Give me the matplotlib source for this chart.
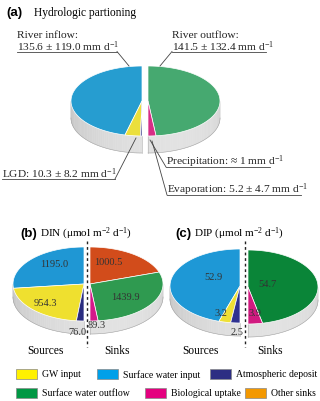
import numpy as np
import matplotlib
matplotlib.use("Agg")
import matplotlib.pyplot as plt
from matplotlib.patches import Polygon, Rectangle

plt.rcParams['mathtext.fontset'] = 'custom'
plt.rcParams['mathtext.rm'] = 'Liberation Serif'
plt.rcParams['mathtext.it'] = 'Liberation Serif:italic'
plt.rcParams['mathtext.bf'] = 'Liberation Serif:bold'

SERIF = 'Liberation Serif'
SANS = 'Liberation Sans'

# (a) hydrologic partitioning, mm d-1
a_src_names = ['River inflow', 'LGD', 'Precipitation']
a_src_vals = [135.6, 10.3, 1.0]
a_src_text = ['135.6 ± 119.0', '10.3 ± 8.2', '≈ 1']
a_sink_names = ['River outflow', 'Evaporation']
a_sink_vals = [141.5, 5.2]
a_sink_text = ['141.5 ± 132.4', '5.2 ± 4.7']

# (b) DIN, umol m-2 d-1
b_src_vals = [1195.0, 954.3, 76.0]       # surface water, GW, atmospheric
b_sink_vals = [1000.5, 1439.9, 89.3]     # other sinks, outflow, biological

# (c) DIP, umol m-2 d-1
c_src_vals = [52.9, 3.2, 2.5]
c_sink_vals = [54.7, 3.9]

legend_names = ['GW input', 'Surface water input', 'Atmospheric deposit',
                'Surface water outflow', 'Biological uptake', 'Other sinks']
legend_colors = ['#FFF100', '#00A0E9', '#2D2E83', '#009844', '#E4007F', '#F39800']


def half_pie(ax, cx, cy, a, b, h, vals, colors, side):
    # side 'left' -> from top going counter-clockwise, 'right' -> clockwise
    tot = float(sum(vals))
    sgn = 1 if side == 'left' else -1
    # side wall (front part only)
    if side == 'left':
        ts = np.linspace(180, 270, 46)
    else:
        ts = np.linspace(270, 360, 46)
    for t0, t1 in zip(ts[:-1], ts[1:]):
        tm = np.radians((t0 + t1) / 2)
        g = 0.80 + 0.08 * (-np.sin(tm)) + 0.03 * np.cos(tm)
        x0 = cx + a * np.cos(np.radians(t0))
        x1 = cx + a * np.cos(np.radians(t1))
        y0 = cy - b * np.sin(np.radians(t0))
        y1 = cy - b * np.sin(np.radians(t1))
        ax.add_patch(Polygon([[x0, y0], [x1, y1], [x1, y1 + h], [x0, y0 + h]],
                             closed=True, fc=(g, g, g), ec=(g, g, g), lw=0.3, zorder=1))
    # bottom outline of wall
    if side == 'left':
        tt = np.radians(np.linspace(180, 270, 60))
    else:
        tt = np.radians(np.linspace(270, 360, 60))
    ax.plot(cx + a * np.cos(tt), cy - b * np.sin(tt) + h, color='#a5a5a5', lw=0.4, zorder=2)
    ax.plot([cx, cx], [cy + b, cy + b + h], color='#b0b0b0', lw=0.4, zorder=2)
    # top wedges
    start = 90.0
    for v, c in zip(vals, colors):
        span = 180.0 * v / tot
        end = start + sgn * span
        tt = np.radians(np.linspace(start, end, max(int(abs(span)), 2) + 1))
        pts = [[cx, cy]] + [[cx + a * np.cos(t), cy - b * np.sin(t)] for t in tt]
        ax.add_patch(Polygon(pts, closed=True, fc=c, ec='white', lw=0.5, zorder=3))
        start = end


def callout(ax, x, y, lines, x_end):
    for i, s in enumerate(lines):
        ax.text(x, y + i * 11.5, s, family=SERIF, fontsize=8.2, va='center', ha='left',
                color='#222222', zorder=6)
    yl = y + (len(lines) - 1) * 11.5 + 6
    ax.plot([x, x_end], [yl, yl], color='#444444', lw=0.6, zorder=5)
    return yl


fig = plt.figure(figsize=(3.2, 4.02), dpi=100)
ax = fig.add_axes([0, 0, 1, 1])
ax.set_xlim(0, 320)
ax.set_ylim(402, 0)
ax.axis('off')

unit = ' mm d$^{\\mathrm{-1}}$'

# ---- panel (a)
ax.text(6, 13, '(a)', family=SANS, fontweight='bold', fontsize=9.5, va='center')
ax.text(34, 13, 'Hydrologic partioning', family=SERIF, fontsize=8.3, va='center')

cyA = 102
half_pie(ax, 142, cyA, 71, 35, 17, a_src_vals, ['#269DD0', '#EBDF3C', '#2B2F85'], 'left')
half_pie(ax, 148, cyA, 72, 35, 17, a_sink_vals, ['#46A970', '#D72D86'], 'right')

yl = callout(ax, 17, 35, [a_src_names[0] + ':', a_src_text[0] + unit], 117)
ax.plot([117, 129], [yl, 67], color='#444444', lw=0.6, zorder=5)
yl = callout(ax, 172, 35, [a_sink_names[0] + ':', a_sink_text[0] + unit], 266)
ax.plot([172, 160], [yl, 67], color='#444444', lw=0.6, zorder=5)
yl = callout(ax, 2, 174, [a_src_names[1] + ': ' + a_src_text[1] + unit], 115)
ax.plot([115, 136], [yl, 139], color='#444444', lw=0.6, zorder=5)
yl = callout(ax, 166, 162, [a_src_names[2] + ': ' + a_src_text[2] + unit], 270)
ax.plot([166, 150], [yl, 141], color='#444444', lw=0.6, zorder=5)
yl = callout(ax, 167, 190, [a_sink_names[1] + ': ' + a_sink_text[1] + unit], 301)
ax.plot([167, 152], [yl, 142], color='#444444', lw=0.6, zorder=5)

# ---- panel (b)
ax.text(20, 234, '(b)', family=SANS, fontweight='bold', fontsize=9.5, va='center')
ax.text(40, 234, 'DIN (μmol m$^{\\mathrm{-2}}$ d$^{\\mathrm{-1}}$)', family=SERIF, fontsize=8, va='center')
cyB = 285
half_pie(ax, 84, cyB, 71, 37, 13, b_src_vals, ['#1F97D4', '#EFE02F', '#2A2C80'], 'left')
half_pie(ax, 90, cyB, 73, 37, 13, b_sink_vals, ['#D24C1B', '#2F9A50', '#D4198A'], 'right')
b_pos = [(54, 265), (45, 304), (77, 333), (108, 263), (125, 298), (97, 326)]
for v, (x, y) in zip(b_src_vals + b_sink_vals, b_pos):
    ax.text(x, y, f'{v:.1f}', family=SERIF, fontsize=7.5, ha='center', va='center',
            color='#333333', zorder=6)
ax.plot([87, 87], [242, 348], color='#222222', lw=1, ls=(0, (2, 2)), zorder=7)
ax.text(45, 351, 'Sources', family=SERIF, fontsize=8.3, ha='center', va='center')
ax.text(117, 351, 'Sinks', family=SERIF, fontsize=8.3, ha='center', va='center')

# ---- panel (c)
ax.text(175, 234, '(c)', family=SANS, fontweight='bold', fontsize=9.5, va='center')
ax.text(194, 234, 'DIP (μmol m$^{\\mathrm{-2}}$ d$^{\\mathrm{-1}}$)', family=SERIF, fontsize=8, va='center')
cyC = 287
half_pie(ax, 240, cyC, 70, 37, 13, c_src_vals, ['#1E98D6', '#EEE036', '#2E3190'], 'left')
half_pie(ax, 248, cyC + 1, 70, 37, 13, c_sink_vals, ['#0A8538', '#D11A80'], 'right')
c_pos = [(213, 278), (221, 314), (237, 333), (267, 285), (255, 314)]
for v, (x, y) in zip(c_src_vals + c_sink_vals, c_pos):
    ax.text(x, y, f'{v:.1f}', family=SERIF, fontsize=7.5, ha='center', va='center',
            color='#333333', zorder=6)
ax.plot([245, 245], [242, 348], color='#222222', lw=1, ls=(0, (2, 2)), zorder=7)
ax.text(200, 351, 'Sources', family=SERIF, fontsize=8.3, ha='center', va='center')
ax.text(270, 351, 'Sinks', family=SERIF, fontsize=8.3, ha='center', va='center')

# ---- legend
leg_x = [16, 97, 210, 16, 145, 245]
leg_y = [375, 375, 375, 394, 394, 394]
for name, col, x, y in zip(legend_names, legend_colors, leg_x, leg_y):
    ax.add_patch(Rectangle((x, y - 5), 21, 10, fc=col, ec='#888888', lw=0.5, zorder=5))
    ax.text(x + 26, y, name, family=SERIF, fontsize=7.0, va='center', ha='left')

fig.savefig('out.png', dpi=100)
